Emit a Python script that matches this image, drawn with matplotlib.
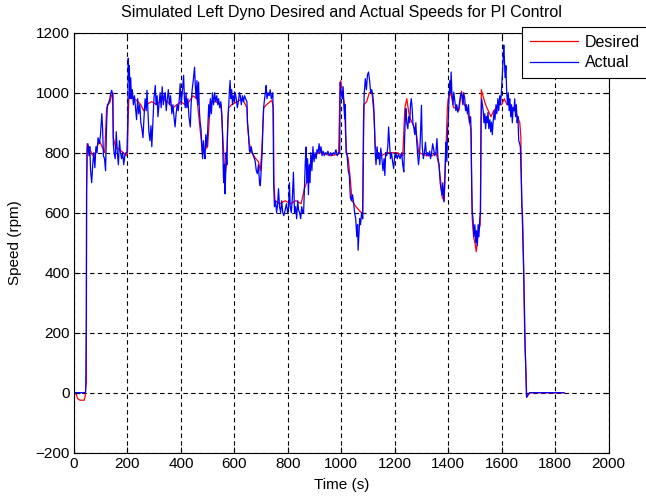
import matplotlib
matplotlib.use('Agg')
import matplotlib.pyplot as plt
import numpy as np

plt.rcParams['font.family'] = ['Liberation Sans', 'DejaVu Sans']

# desired speed (red), time in s / speed in rpm
t_desired = [0, 8, 14, 22, 38, 42, 44, 46, 47, 49, 60, 70, 80, 86, 95, 105, 115, 122, 128, 135,
             140, 145, 147, 155, 170, 185, 195, 200, 202, 206, 215, 225, 240, 250, 260, 270, 290, 310, 330, 350,
             370, 385, 400, 415, 430, 445, 460, 475, 480, 500, 510, 530, 550, 555, 560, 565, 570, 578, 590, 610,
             630, 647, 650, 656, 665, 680, 690, 697, 702, 710, 720, 740, 746, 748, 752, 770, 790, 810, 830, 850,
             862, 870, 880, 890, 920, 960, 990, 995, 998, 1005, 1012, 1016, 1020, 1026, 1035, 1040, 1055, 1065, 1075, 1080,
             1085, 1095, 1105, 1115, 1122, 1127, 1135, 1150, 1170, 1190, 1210, 1230, 1238, 1245, 1255, 1265, 1280, 1290, 1320, 1340,
             1355, 1365, 1375, 1378, 1385, 1392, 1397, 1400, 1410, 1420, 1430, 1440, 1450, 1460, 1470, 1480, 1485, 1490, 1495, 1500,
             1505, 1512, 1520, 1524, 1530, 1540, 1550, 1560, 1570, 1580, 1590, 1600, 1610, 1620, 1630, 1640, 1650, 1660, 1668, 1672,
             1675, 1678, 1682, 1686, 1689, 1692, 1694, 1698, 1705, 1835]
v_desired = [0, -5, -20, -25, -25, -10, 20, 30, 670, 830, 810, 790, 800, 820, 840, 820, 800, 950, 960, 970,
             990, 1000, 850, 820, 810, 800, 790, 800, 900, 1000, 990, 980, 970, 960, 940, 960, 970, 960, 980, 970,
             950, 960, 970, 960, 970, 990, 980, 850, 800, 820, 970, 970, 960, 880, 800, 720, 760, 950, 960, 970,
             980, 950, 880, 830, 800, 780, 770, 740, 800, 950, 960, 975, 950, 700, 640, 630, 640, 630, 640, 630,
             680, 700, 740, 790, 800, 790, 795, 1010, 1040, 1000, 960, 860, 800, 780, 700, 640, 620, 610, 600, 580,
             960, 970, 1000, 1000, 930, 820, 800, 790, 800, 800, 800, 790, 950, 980, 920, 900, 870, 800, 790, 790,
             800, 760, 680, 650, 640, 820, 950, 980, 1000, 950, 950, 940, 1005, 960, 950, 900, 880, 580, 520, 500,
             470, 530, 560, 1010, 990, 960, 940, 920, 940, 950, 960, 960, 980, 960, 960, 950, 940, 920, 900, 850,
             620, 600, 440, 200, 120, 40, -15, -10, 0, 0]

# actual speed (blue)
t_actual = [0, 43, 44, 46, 47, 49, 52, 56, 59, 62, 66, 70, 74, 78, 82, 86, 90, 95, 99, 104,
            107, 110, 114, 118, 122, 125, 129, 134, 138, 141, 145, 147, 150, 154, 158, 162, 166, 170, 174, 178,
            182, 186, 190, 194, 198, 201, 203, 205, 207, 209, 212, 215, 218, 222, 226, 230, 234, 238, 242, 246,
            250, 254, 258, 262, 266, 270, 273, 276, 280, 284, 288, 291, 295, 299, 304, 307, 311, 314, 318, 322,
            326, 330, 334, 338, 341, 345, 349, 353, 357, 361, 366, 370, 374, 378, 382, 386, 390, 394, 397, 401,
            405, 410, 413, 416, 419, 422, 426, 430, 435, 438, 442, 446, 451, 454, 457, 460, 463, 466, 469, 472,
            475, 478, 481, 484, 487, 490, 493, 497, 500, 504, 507, 510, 514, 518, 522, 526, 530, 534, 538, 541,
            545, 549, 553, 555, 557, 559, 561, 563, 565, 567, 569, 572, 575, 578, 581, 584, 587, 590, 593, 596,
            600, 603, 607, 611, 615, 619, 622, 626, 630, 634, 638, 642, 647, 649, 652, 656, 659, 663, 667, 671,
            675, 678, 682, 686, 690, 694, 697, 700, 704, 707, 709, 713, 716, 719, 722, 726, 730, 734, 738, 741,
            744, 747, 750, 754, 758, 762, 765, 769, 773, 777, 781, 785, 790, 795, 799, 803, 806, 809, 813, 817,
            821, 825, 829, 833, 837, 840, 844, 848, 852, 856, 859, 862, 865, 868, 871, 874, 877, 880, 883, 886,
            890, 894, 898, 902, 906, 909, 913, 917, 920, 924, 928, 932, 936, 940, 945, 950, 955, 960, 965, 970,
            975, 980, 985, 990, 994, 996, 998, 1001, 1004, 1007, 1010, 1013, 1015, 1018, 1022, 1026, 1030, 1034, 1038, 1042,
            1046, 1050, 1054, 1058, 1061, 1063, 1066, 1069, 1072, 1076, 1080, 1083, 1086, 1090, 1094, 1098, 1102, 1106, 1110, 1114,
            1118, 1121, 1124, 1127, 1130, 1134, 1137, 1140, 1144, 1148, 1152, 1156, 1160, 1163, 1166, 1170, 1174, 1177, 1180, 1184,
            1188, 1192, 1196, 1200, 1204, 1209, 1214, 1220, 1226, 1230, 1234, 1237, 1240, 1242, 1245, 1249, 1252, 1256, 1259, 1262,
            1265, 1268, 1272, 1275, 1279, 1282, 1286, 1289, 1293, 1296, 1300, 1303, 1307, 1311, 1315, 1319, 1323, 1327, 1331, 1334,
            1338, 1342, 1346, 1350, 1354, 1358, 1362, 1366, 1370, 1373, 1377, 1380, 1384, 1387, 1390, 1392, 1395, 1398, 1400, 1403,
            1406, 1409, 1411, 1414, 1418, 1421, 1425, 1429, 1432, 1436, 1440, 1444, 1448, 1451, 1455, 1458, 1462, 1465, 1468, 1472,
            1476, 1480, 1484, 1486, 1488, 1490, 1493, 1496, 1500, 1503, 1506, 1509, 1512, 1515, 1518, 1521, 1523, 1525, 1528, 1531,
            1534, 1537, 1540, 1543, 1546, 1549, 1552, 1556, 1559, 1562, 1565, 1568, 1572, 1575, 1579, 1582, 1586, 1589, 1593, 1596,
            1599, 1602, 1605, 1608, 1610, 1613, 1616, 1619, 1622, 1625, 1628, 1631, 1634, 1637, 1640, 1643, 1646, 1649, 1652, 1655,
            1658, 1661, 1664, 1667, 1670, 1674, 1678, 1682, 1685, 1688, 1691, 1693, 1696, 1700, 1705, 1833]
v_actual = [0, 0, 25, 250, 670, 810, 830, 790, 820, 740, 700, 760, 800, 750, 820, 800, 850, 830, 860, 930,
            880, 790, 780, 740, 900, 960, 965, 980, 1000, 1008, 990, 830, 800, 780, 870, 800, 760, 840, 800, 780,
            800, 760, 790, 800, 800, 900, 1115, 1040, 1090, 980, 1050, 980, 1010, 960, 990, 950, 910, 980, 930, 960,
            900, 880, 850, 920, 980, 940, 1008, 950, 870, 840, 890, 820, 900, 980, 1024, 960, 990, 920, 960, 1000,
            950, 1020, 960, 990, 1000, 940, 980, 1010, 960, 990, 930, 960, 920, 886, 930, 960, 940, 980, 1030, 960,
            1000, 1058, 980, 950, 1000, 950, 980, 920, 886, 960, 1010, 1040, 1085, 1020, 980, 1040, 960, 1035, 940, 900,
            880, 830, 780, 840, 800, 780, 860, 820, 870, 960, 920, 980, 930, 1000, 960, 1000, 970, 990, 960, 980,
            950, 970, 930, 880, 800, 720, 700, 760, 663, 720, 800, 760, 900, 940, 1000, 1041, 980, 1010, 960, 990,
            970, 1000, 980, 950, 970, 1000, 990, 960, 990, 970, 990, 980, 970, 900, 875, 810, 800, 820, 800, 790,
            780, 770, 740, 730, 760, 700, 690, 740, 800, 900, 947, 980, 1000, 1024, 980, 1000, 990, 1010, 980, 990,
            1000, 700, 620, 640, 600, 630, 680, 620, 600, 640, 600, 590, 610, 630, 600, 620, 700, 620, 600, 650,
            735, 600, 620, 580, 640, 610, 600, 580, 620, 600, 600, 680, 760, 819, 700, 780, 660, 760, 700, 800,
            740, 820, 770, 800, 780, 810, 800, 830, 800, 820, 790, 805, 790, 800, 795, 805, 790, 800, 790, 800,
            795, 810, 790, 800, 800, 1035, 1010, 1000, 980, 1020, 950, 913, 960, 800, 790, 740, 724, 650, 640, 660,
            635, 600, 580, 520, 560, 475, 530, 580, 560, 600, 580, 900, 1000, 1047, 1010, 1060, 1069, 1040, 1000, 1010,
            990, 960, 900, 800, 760, 820, 780, 800, 760, 815, 780, 740, 780, 724, 800, 790, 820, 886, 840, 780,
            800, 770, 747, 790, 800, 780, 795, 780, 800, 760, 736, 850, 920, 947, 900, 880, 920, 900, 960, 980,
            950, 900, 880, 860, 900, 840, 790, 760, 800, 850, 958, 820, 780, 800, 835, 790, 800, 790, 805, 780,
            800, 830, 810, 790, 800, 847, 780, 760, 700, 680, 658, 700, 636, 700, 800, 835, 770, 880, 902, 980,
            1040, 1000, 1069, 1000, 960, 1002, 970, 940, 960, 935, 950, 980, 1000, 990, 960, 1000, 980, 940, 960, 930,
            960, 900, 920, 860, 680, 600, 580, 520, 560, 500, 540, 490, 560, 520, 580, 600, 900, 980, 960, 940,
            900, 930, 880, 920, 900, 935, 880, 910, 870, 902, 860, 900, 940, 910, 960, 930, 980, 940, 990, 960,
            1000, 1050, 1100, 1159, 1120, 1050, 1090, 1000, 960, 1000, 940, 980, 920, 960, 900, 950, 940, 980, 920, 960,
            900, 920, 840, 832, 820, 700, 560, 420, 300, 150, 60, -15, -10, -5, 0, 0]

x_ticks = [0, 200, 400, 600, 800, 1000, 1200, 1400, 1600, 1800, 2000]
y_ticks = [-200, 0, 200, 400, 600, 800, 1000, 1200]

fig = plt.figure(figsize=(6.46, 4.98), dpi=100)
ax = fig.add_axes([0.1146, 0.091, 0.8274, 0.8433])

ax.plot(t_desired, v_desired, color='r', linewidth=0.9, label='Desired')
ax.plot(t_actual, v_actual, color='b', linewidth=0.9, label='Actual')

ax.set_xlim(0, 2000)
ax.set_ylim(-200, 1200)
ax.set_xticks(x_ticks)
ax.set_yticks(y_ticks)
ax.tick_params(direction='in', length=4, width=0.8, top=True, right=True,
               labelsize=11, pad=3)
ax.grid(True, color='k', linestyle=(0, (4, 3)), linewidth=0.8)
for s in ax.spines.values():
    s.set_linewidth(0.8)

ax.set_title('Simulated Left Dyno Desired and Actual Speeds for PI Control',
             fontsize=11.5, pad=11)
ax.set_xlabel('Time (s)', fontsize=11)
ax.set_ylabel('Speed (rpm)', fontsize=11)
ax.xaxis.set_label_coords(0.5, -0.077)
ax.yaxis.set_label_coords(-0.11, 0.5)
ax.xaxis.label.set_va('center')
ax.yaxis.label.set_va('center')

leg = fig.legend(loc='upper left', bbox_to_anchor=(0.808, 0.946), fontsize=11.5,
                 fancybox=False, edgecolor='k', framealpha=1, borderaxespad=0,
                 handlelength=3.0, handletextpad=0.45, borderpad=0.5, labelspacing=0.35)
leg.get_frame().set_linewidth(0.8)

plt.savefig('out.png', dpi=100)
